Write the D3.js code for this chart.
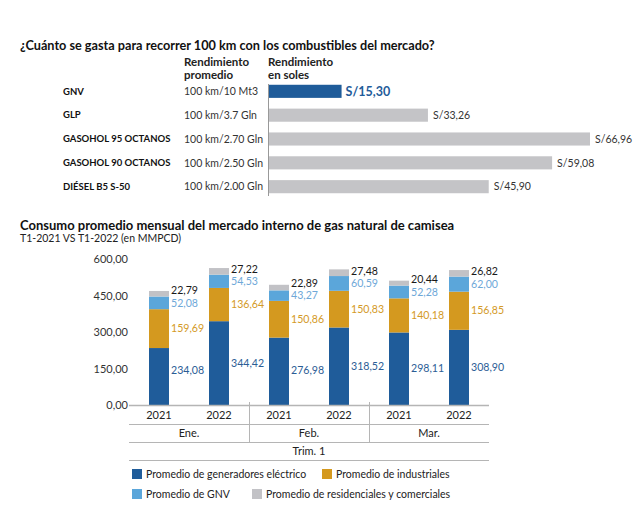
<!DOCTYPE html>
<html><head><meta charset="utf-8">
<script src="https://cdn.jsdelivr.net/npm/d3@7"></script>
<style>
body{margin:0;background:#fff;}
svg{display:block;font-family:Lato,"Noto Sans",sans-serif;}
</style></head>
<body>
<svg id="c" width="640" height="512"></svg>
<script>
// ---- Data: top chart ----
const fuels = ["GNV","GLP","GASOHOL 95 OCTANOS","GASOHOL 90 OCTANOS","DIÉSEL B5 S-50"];
const rendimiento = ["100 km/10 Mt3","100 km/3.7 Gln","100 km/2.70 Gln","100 km/2.50 Gln","100 km/2.00 Gln"];
const costs = [15.30,33.26,66.96,59.08,45.90];

// ---- Data: bottom chart ----
const months = ["Ene.","Feb.","Mar."];
const years = ["2021","2022"];
const seriesNames = ["Promedio de generadores eléctrico","Promedio de industriales","Promedio de GNV","Promedio de residenciales y comerciales"];
const generadores = [234.08,344.42,276.98,318.52,298.11,308.90];
const industriales = [159.69,136.64,150.86,150.83,140.18,156.85];
const gnv = [52.08,54.53,43.27,60.59,52.28,62.00];
const residenciales = [22.79,27.22,22.89,27.48,20.44,26.82];
const yTicks = [0,150,300,450,600];

const loc = d3.formatLocale({decimal:",",thousands:".",grouping:[3],currency:["S/",""]});
const f2 = loc.format(".2f");

const svg = d3.select("#c");

// ===== Top chart =====
svg.append("text").attr("x",20).attr("y",50).attr("font-size",12.7).attr("font-weight",700)
  .attr("fill","#111").text("¿Cuánto se gasta para recorrer 100 km con los combustibles del mercado?");
[["Rendimiento","promedio",184],["Rendimiento","en soles",268]].forEach(h=>{
  const t = svg.append("text").attr("x",h[2]).attr("font-size",11.5).attr("font-weight",700).attr("fill","#222");
  t.append("tspan").attr("x",h[2]).attr("y",66).text(h[0]);
  t.append("tspan").attr("x",h[2]).attr("y",79).text(h[1]);
});
const yT = d3.scaleBand().domain(d3.range(fuels.length)).range([80,198]).paddingInner(0.45).paddingOuter(0.2);
const xT = d3.scaleLinear().domain([0,66.96]).range([268,590]);
const rows = svg.append("g").selectAll("g").data(fuels).join("g");
rows.append("text").attr("x",63).attr("y",(d,i)=>yT(i)+yT.bandwidth()/2).attr("dy","0.35em")
  .attr("font-size",9.5).attr("font-weight",700).attr("fill","#111").text(d=>d);
rows.append("text").attr("x",184).attr("y",(d,i)=>yT(i)+yT.bandwidth()/2).attr("dy","0.35em")
  .attr("font-size",10.5).attr("fill","#333").text((d,i)=>rendimiento[i]);
rows.append("rect").attr("x",xT(0)).attr("y",(d,i)=>yT(i)).attr("height",yT.bandwidth())
  .attr("width",(d,i)=>xT(costs[i])-xT(0)).attr("fill",(d,i)=>i===0?"#1f5c9a":"#c4c4c7");
rows.append("text").attr("x",(d,i)=>xT(costs[i])+(i===0?4:5)).attr("y",(d,i)=>yT(i)+yT.bandwidth()/2).attr("dy","0.35em")
  .attr("font-size",(d,i)=>i===0?12.5:10.5).attr("font-weight",(d,i)=>i===0?700:400)
  .attr("fill",(d,i)=>i===0?"#1f5c9a":"#333").text((d,i)=>"S/"+f2(costs[i]));
svg.append("line").attr("x1",268.5).attr("x2",268.5).attr("y1",84).attr("y2",196).attr("stroke","#999").attr("stroke-width",1);

// ===== Bottom chart =====
svg.append("text").attr("x",20).attr("y",230).attr("font-size",13).attr("font-weight",700)
  .attr("fill","#111").text("Consumo promedio mensual del mercado interno de gas natural de camisea");
svg.append("text").attr("x",20).attr("y",242).attr("font-size",10.5).attr("fill","#222")
  .text("T1-2021 VS T1-2022 (en MMPCD)");

const cats = d3.range(generadores.length);
const xB = d3.scaleBand().domain(cats).range([129,489]);
const barW = 20;
const yB = d3.scaleLinear().domain([0,600]).range([405,259]);

const yAxis = d3.axisLeft(yB).tickValues(yTicks).tickSize(0).tickPadding(0).tickFormat(f2);
const ga = svg.append("g").attr("transform","translate(128,0)").call(yAxis);
ga.select(".domain").remove();
ga.selectAll("text").attr("font-size",11).attr("fill","#333").attr("font-family","Lato,'Noto Sans',sans-serif");

const colors = ["#1f5c9a","#d4991f","#5ba6da","#c2c2c6"];
const labelColors = ["#2b5d95","#d49a26","#6ea8d8","#1a1a1a"];
const table = cats.map(i=>({i, s0:generadores[i], s1:industriales[i], s2:gnv[i], s3:residenciales[i]}));
const stack = d3.stack().keys(["s0","s1","s2","s3"])(table);

stack.forEach((layer,k)=>{
  svg.append("g").selectAll("rect").data(layer).join("rect")
    .attr("x",d=>xB(d.data.i)+(xB.bandwidth()-barW)/2)
    .attr("y",d=>yB(d[1])).attr("height",d=>yB(d[0])-yB(d[1]))
    .attr("width",barW).attr("fill",colors[k]);
});
// labels
stack.forEach((layer,k)=>{
  svg.append("g").selectAll("text").data(layer).join("text")
    .attr("x",d=>xB(d.data.i)+(xB.bandwidth()+barW)/2+2)
    .attr("y",(d,j)=>{
      let c = (yB(d[0])+yB(d[1]))/2;
      if(k===0) c = Math.min(c,370);
      if(k===3){ const lb = stack[2][j]; c = Math.min(c,(yB(lb[0])+yB(lb[1]))/2-12.5); }
      return c;
    })
    .attr("dy","0.35em").attr("font-size",10.6).attr("fill",labelColors[k])
    .text(d=>f2(d[1]-d[0]));
});

// baseline & category axis
const axisCol = "#b5b5b5";
svg.append("line").attr("x1",129).attr("x2",489).attr("y1",405.5).attr("y2",405.5).attr("stroke",axisCol).attr("stroke-width",1.5);
[424.5,442.5,460.5].forEach(y=>svg.append("line").attr("x1",129).attr("x2",489).attr("y1",y).attr("y2",y).attr("stroke",axisCol).attr("stroke-width",1.2));
[1,2].forEach(m=>{
  const x = xB(m*years.length)+0.5;
  svg.append("line").attr("x1",x).attr("x2",x).attr("y1",402).attr("y2",442).attr("stroke",axisCol).attr("stroke-width",1);
});
svg.append("g").selectAll("text").data(cats).join("text")
  .attr("x",i=>xB(i)+xB.bandwidth()/2).attr("y",415).attr("dy","0.35em").attr("text-anchor","middle")
  .attr("font-size",11).attr("fill","#222").text(i=>years[i%years.length]);
svg.append("g").selectAll("text").data(months).join("text")
  .attr("x",(d,m)=>(xB(m*2)+xB(m*2+1)+xB.bandwidth())/2).attr("y",433.5).attr("dy","0.35em").attr("text-anchor","middle")
  .attr("font-size",11).attr("fill","#222").text(d=>d);
svg.append("text").attr("x",(129+489)/2).attr("y",451.5).attr("dy","0.35em").attr("text-anchor","middle")
  .attr("font-size",11).attr("fill","#222").text("Trim. 1");

// legend
const legPos = [[132,469],[322,469],[132,489],[252,489]];
seriesNames.forEach((n,k)=>{
  const [x,y] = legPos[k];
  svg.append("rect").attr("x",x).attr("y",y).attr("width",10).attr("height",10).attr("fill",colors[k]);
  svg.append("text").attr("x",x+14).attr("y",y+5).attr("dy","0.35em").attr("font-size",10.5).attr("fill","#222").text(n);
});
</script>
</body></html>
